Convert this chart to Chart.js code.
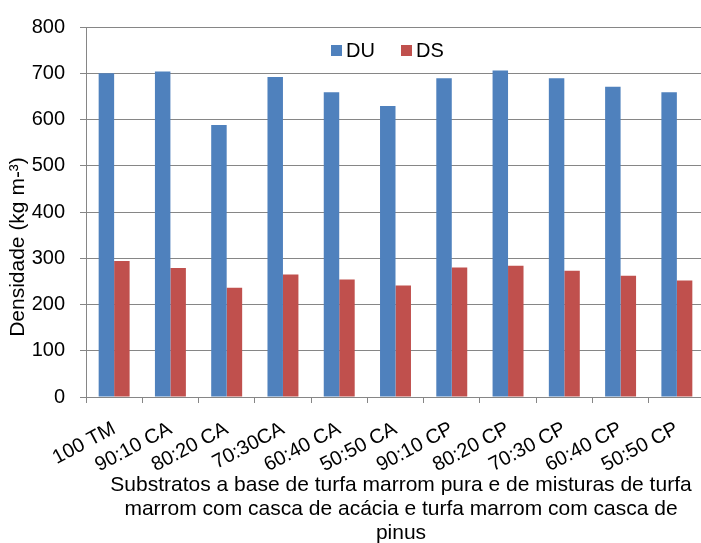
<!DOCTYPE html>
<html>
<head>
<meta charset="utf-8">
<script src="https://cdn.jsdelivr.net/npm/chart.js@4/dist/chart.umd.min.js"></script>
<style>
  html, body { margin: 0; padding: 0; background: #fff; overflow: hidden; }
  #wrap { width: 710px; height: 543px; }
</style>
</head>
<body>
<div id="wrap"><canvas id="c" width="710" height="543"></canvas></div>
<script>
// Substrate treatments (peat alone and peat mixed with acacia or pine bark)
const categories = ['100 TM', '90:10 CA', '80:20 CA', '70:30CA', '60:40 CA', '50:50 CA',
                    '90:10 CP', '80:20 CP', '70:30 CP', '60:40 CP', '50:50 CP'];
// Wet density (DU) and dry density (DS), kg m-3
const duValues = [700, 704, 588, 692, 659, 629, 689, 706, 689, 671, 659];
const dsValues = [294, 279, 236, 265, 254, 241, 280, 284, 273, 262, 252];
const seriesNames = ['DU', 'DS'];
const yTicks = [0, 100, 200, 300, 400, 500, 600, 700, 800];

const yTitle = 'Densidade (kg m-³)';
const xTitleLines = [
  'Substratos a base de turfa marrom pura e de misturas de turfa',
  'marrom com casca de acácia e turfa marrom com casca de',
  'pinus'
];

const FONT = '"Liberation Sans", Arial, sans-serif';
const GRID = '#868686';
const colors = ['#4F81BD', '#C0504D'];

// Axis titles and the in-plot legend
const annotate = {
  id: 'annotate',
  afterDraw(chart) {
    const ctx = chart.ctx;
    const area = chart.chartArea;
    ctx.save();
    ctx.textBaseline = 'middle';

    // legend
    ctx.font = '20px ' + FONT;
    const legendX = [area.left + 245, area.left + 315];
    const legendY = area.top + 23;
    chart.data.datasets.forEach((ds, i) => {
      ctx.fillStyle = ds.backgroundColor;
      ctx.fillRect(legendX[i], legendY - 5, 11, 11);
      ctx.fillStyle = '#000';
      ctx.textAlign = 'left';
      ctx.fillText(ds.label, legendX[i] + 15, legendY + 1);
    });

    ctx.font = '21px ' + FONT;
    ctx.fillStyle = '#000';

    // y axis title
    ctx.save();
    ctx.translate(18, 247);
    ctx.rotate(-Math.PI / 2);
    ctx.textAlign = 'center';
    ctx.fillText(yTitle, 0, 0);
    ctx.restore();

    // x axis title
    ctx.textAlign = 'center';
    xTitleLines.forEach((line, i) => {
      ctx.fillText(line, 401, 485 + i * 24);
    });
    ctx.restore();
  }
};

new Chart(document.getElementById('c'), {
  type: 'bar',
  data: {
    labels: categories,
    datasets: [
      { label: seriesNames[0], data: duValues, backgroundColor: colors[0] },
      { label: seriesNames[1], data: dsValues, backgroundColor: colors[1] }
    ]
  },
  options: {
    responsive: false,
    animation: false,
    devicePixelRatio: 1,
    layout: { padding: { top: 20, right: 5, left: 0, bottom: 0 } },
    datasets: { bar: { categoryPercentage: 0.55, barPercentage: 1.0, borderWidth: 0 } },
    plugins: { legend: { display: false }, tooltip: { enabled: false } },
    scales: {
      x: {
        grid: { display: true, drawOnChartArea: false, drawTicks: true, tickLength: 6, color: GRID, offset: true },
        border: { color: GRID, width: 1 },
        ticks: { color: '#000', font: { family: FONT, size: 20 }, minRotation: 28, maxRotation: 28, padding: 14, autoSkip: false },
        afterFit(s) { s.height = 146; }
      },
      y: {
        min: 0, max: 800,
        afterBuildTicks(s) { s.ticks = yTicks.map(v => ({ value: v })); },
        grid: { color: GRID, lineWidth: 1, tickLength: 6 },
        border: { color: GRID, width: 1 },
        ticks: { color: '#000', font: { family: FONT, size: 20 }, padding: 15 },
        afterFit(s) { s.width = 86; }
      }
    }
  },
  plugins: [annotate]
});
</script>
</body>
</html>
